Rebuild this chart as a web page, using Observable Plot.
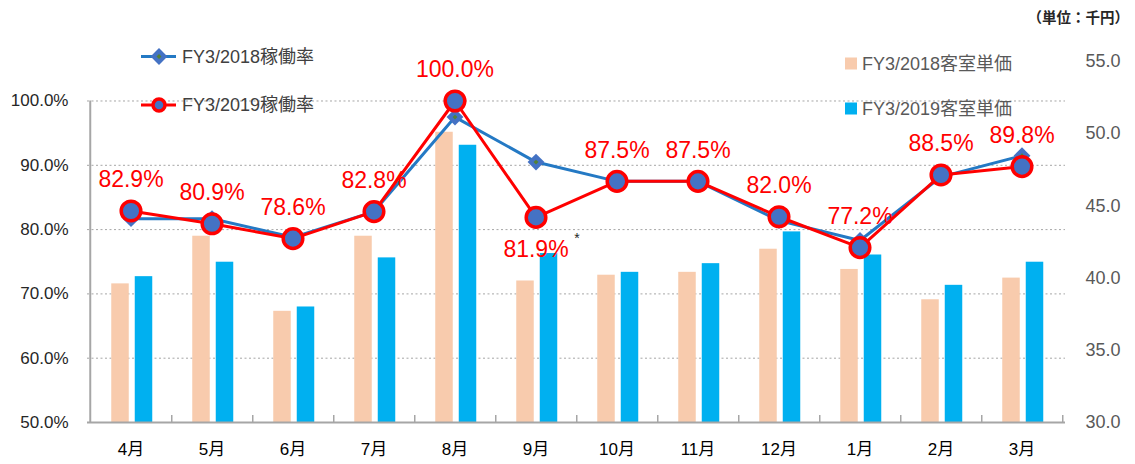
<!DOCTYPE html>
<html>
<head>
<meta charset="utf-8">
<script src="https://cdn.jsdelivr.net/npm/d3@7"></script>
<script src="https://cdn.jsdelivr.net/npm/@observablehq/plot@0.6"></script>
<style>
  body { margin: 0; background: #fff; }
  svg { display: block; }
</style>
</head>
<body>
<div id="chart"></div>
<script>
// ---- data ----
const months = ["4月", "5月", "6月", "7月", "8月", "9月", "10月", "11月", "12月", "1月", "2月", "3月"];
const rate2018 = [81.7, 81.7, 78.8, 82.8, 97.5, 90.5, 87.5, 87.5, 81.4, 78.3, 88.2, 91.5];
const rate2019 = [82.9, 80.9, 78.6, 82.8, 100.0, 81.9, 87.5, 87.5, 82.0, 77.2, 88.5, 89.8];
const price2018 = [39.6, 42.9, 37.7, 42.9, 50.1, 39.8, 40.2, 40.4, 42.0, 40.6, 38.5, 40.0];
const price2019 = [40.1, 41.1, 38.0, 41.4, 49.2, 41.7, 40.4, 41.0, 43.2, 41.6, 39.5, 41.1];
const rateTicks = [50, 60, 70, 80, 90, 100];
const gridTicks = [60, 70, 80, 90, 100];
const priceTicks = [30, 35, 40, 45, 50, 55];
const legendRate = ["FY3/2018稼働率", "FY3/2019稼働率"];
const legendPrice = ["FY3/2018客室単価", "FY3/2019客室単価"];
const unitText = "（単位：千円）";
const noteMonth = "9月";

// ---- dual axis mapping (price axis expressed in rate units) ----
const K = 2.2457;
const p2r = p => 50 + (p - 30) * K;
const r2p = r => 30 + (r - 50) / K;

const FONT = "'Liberation Sans', Arial, 'Noto Sans CJK JP', sans-serif";
const C18 = "#F8CBAD", C19 = "#00B0F0", LINE18 = "#2479C4", LINE19 = "#FF0000", DOTFILL = "#4472C4";

const rows = months.map((m, i) => ({
  month: m, r18: rate2018[i], r19: rate2019[i], p18: price2018[i], p19: price2019[i]
}));

const half = 40.75;

const plot = Plot.plot({
  width: 1135,
  height: 464,
  marginLeft: 87,
  marginRight: 70,
  marginTop: 61,
  marginBottom: 42,
  style: { fontFamily: FONT, background: "#fff" },
  x: { type: "band", domain: months, padding: 0, label: null },
  y: { domain: [50, p2r(55)], label: null },
  marks: [
    Plot.gridY(gridTicks, { stroke: "#a6a6a6", strokeOpacity: 1, strokeDasharray: "2,2.5", strokeWidth: 1 }),
    Plot.barY(rows, { x: "month", y1: 50, y2: d => p2r(d.p18), fill: C18, insetLeft: 21.25, insetRight: 42.25 }),
    Plot.barY(rows, { x: "month", y1: 50, y2: d => p2r(d.p19), fill: C19, insetLeft: 44.75, insetRight: 18.75 }),
    Plot.ruleY([50], { stroke: "#a6a6a6", strokeWidth: 2 }),
    Plot.ruleX([months[0]], { x: d => d, y1: 50, y2: 100, dx: -half, stroke: "#a6a6a6", strokeWidth: 2 }),
    Plot.ruleX(months, { x: d => d, y1: 50, y2: 51.1, dx: half, stroke: "#a6a6a6", strokeWidth: 1.5 }),
    Plot.line(rows, { x: "month", y: "r18", stroke: LINE18, strokeWidth: 3 }),
    Plot.dot(rows, { x: "month", y: "r18", symbol: "diamond2", r: 7.6, fill: DOTFILL, stroke: "none" }),
    Plot.dot(rows, { x: "month", y: "r18", symbol: "diamond2", r: 2.2, fill: "#548235", stroke: "none" }),
    Plot.line(rows, { x: "month", y: "r19", stroke: LINE19, strokeWidth: 3 }),
    Plot.dot(rows, { x: "month", y: "r19", r: 9.8, fill: DOTFILL, stroke: LINE19, strokeWidth: 3.5 }),
    Plot.text(rows.filter(d => d.month !== noteMonth), { x: "month", y: "r19", text: d => d.r19.toFixed(1) + "%", dy: -31, fill: LINE19, fontSize: 23 }),
    Plot.text(rows.filter(d => d.month === noteMonth), { x: "month", y: "r19", text: d => d.r19.toFixed(1) + "%", dy: 32, fill: LINE19, fontSize: 23 }),
    Plot.text(rows.filter(d => d.month === noteMonth), { x: "month", y: "r19", text: () => "*", dx: 41, dy: 21, fill: "#262626", fontSize: 14 }),
    Plot.axisY(rateTicks, { anchor: "left", tickSize: 0, tickPadding: 19, tickFormat: d => d.toFixed(1) + "%", fontSize: 17, color: "#262626", label: null }),
    Plot.axisY(priceTicks.map(p2r), { anchor: "right", tickSize: 0, tickPadding: 20, tickFormat: d => r2p(d).toFixed(1), fontSize: 18, color: "#595959", label: null }),
    Plot.axisX({ tickSize: 0, tickPadding: 20, fontSize: 17, color: "#000", label: null })
  ]
});

document.getElementById("chart").appendChild(plot);

// ---- legends & unit note (inside the SVG) ----
const svg = d3.select(plot);
const g = svg.append("g").attr("font-family", FONT).attr("text-anchor", "start");

// rate legends (left)
const rl = g.append("g");
[0, 1].forEach(i => {
  const y = i === 0 ? 56.5 : 105;
  const col = i === 0 ? LINE18 : LINE19;
  rl.append("line").attr("x1", 141).attr("x2", 176).attr("y1", y).attr("y2", y)
    .attr("stroke", col).attr("stroke-width", 3);
  if (i === 0) {
    rl.append("path").attr("d", d3.symbol(d3.symbolDiamond2, 7.6 * 7.6 * Math.PI)())
      .attr("transform", `translate(159,${y})`).attr("fill", DOTFILL);
    rl.append("path").attr("d", d3.symbol(d3.symbolDiamond2, 2.2 * 2.2 * Math.PI)())
      .attr("transform", `translate(159,${y})`).attr("fill", "#548235");
  } else {
    rl.append("circle").attr("cx", 159).attr("cy", y).attr("r", 6)
      .attr("fill", DOTFILL).attr("stroke", LINE19).attr("stroke-width", 3.5);
  }
  rl.append("text").attr("x", 182).attr("y", y).attr("dy", "0.36em").attr("text-anchor", "start")
    .attr("font-size", 18).attr("fill", "#404040").text(legendRate[i]);
});

// price legends (right)
const pl = g.append("g");
[0, 1].forEach(i => {
  const y = i === 0 ? 63.5 : 108.5;
  pl.append("rect").attr("x", 845).attr("y", y - 6).attr("width", 12).attr("height", 12)
    .attr("fill", i === 0 ? C18 : C19);
  pl.append("text").attr("x", 862).attr("y", y).attr("dy", "0.36em").attr("text-anchor", "start")
    .attr("font-size", 18).attr("fill", "#595959").text(legendPrice[i]);
});

// unit note
g.append("text").attr("x", 1129).attr("y", 18).attr("dy", "0.36em")
  .attr("text-anchor", "end").attr("font-size", 14.5).attr("font-weight", "bold")
  .attr("fill", "#262626").text(unitText);
</script>
</body>
</html>
